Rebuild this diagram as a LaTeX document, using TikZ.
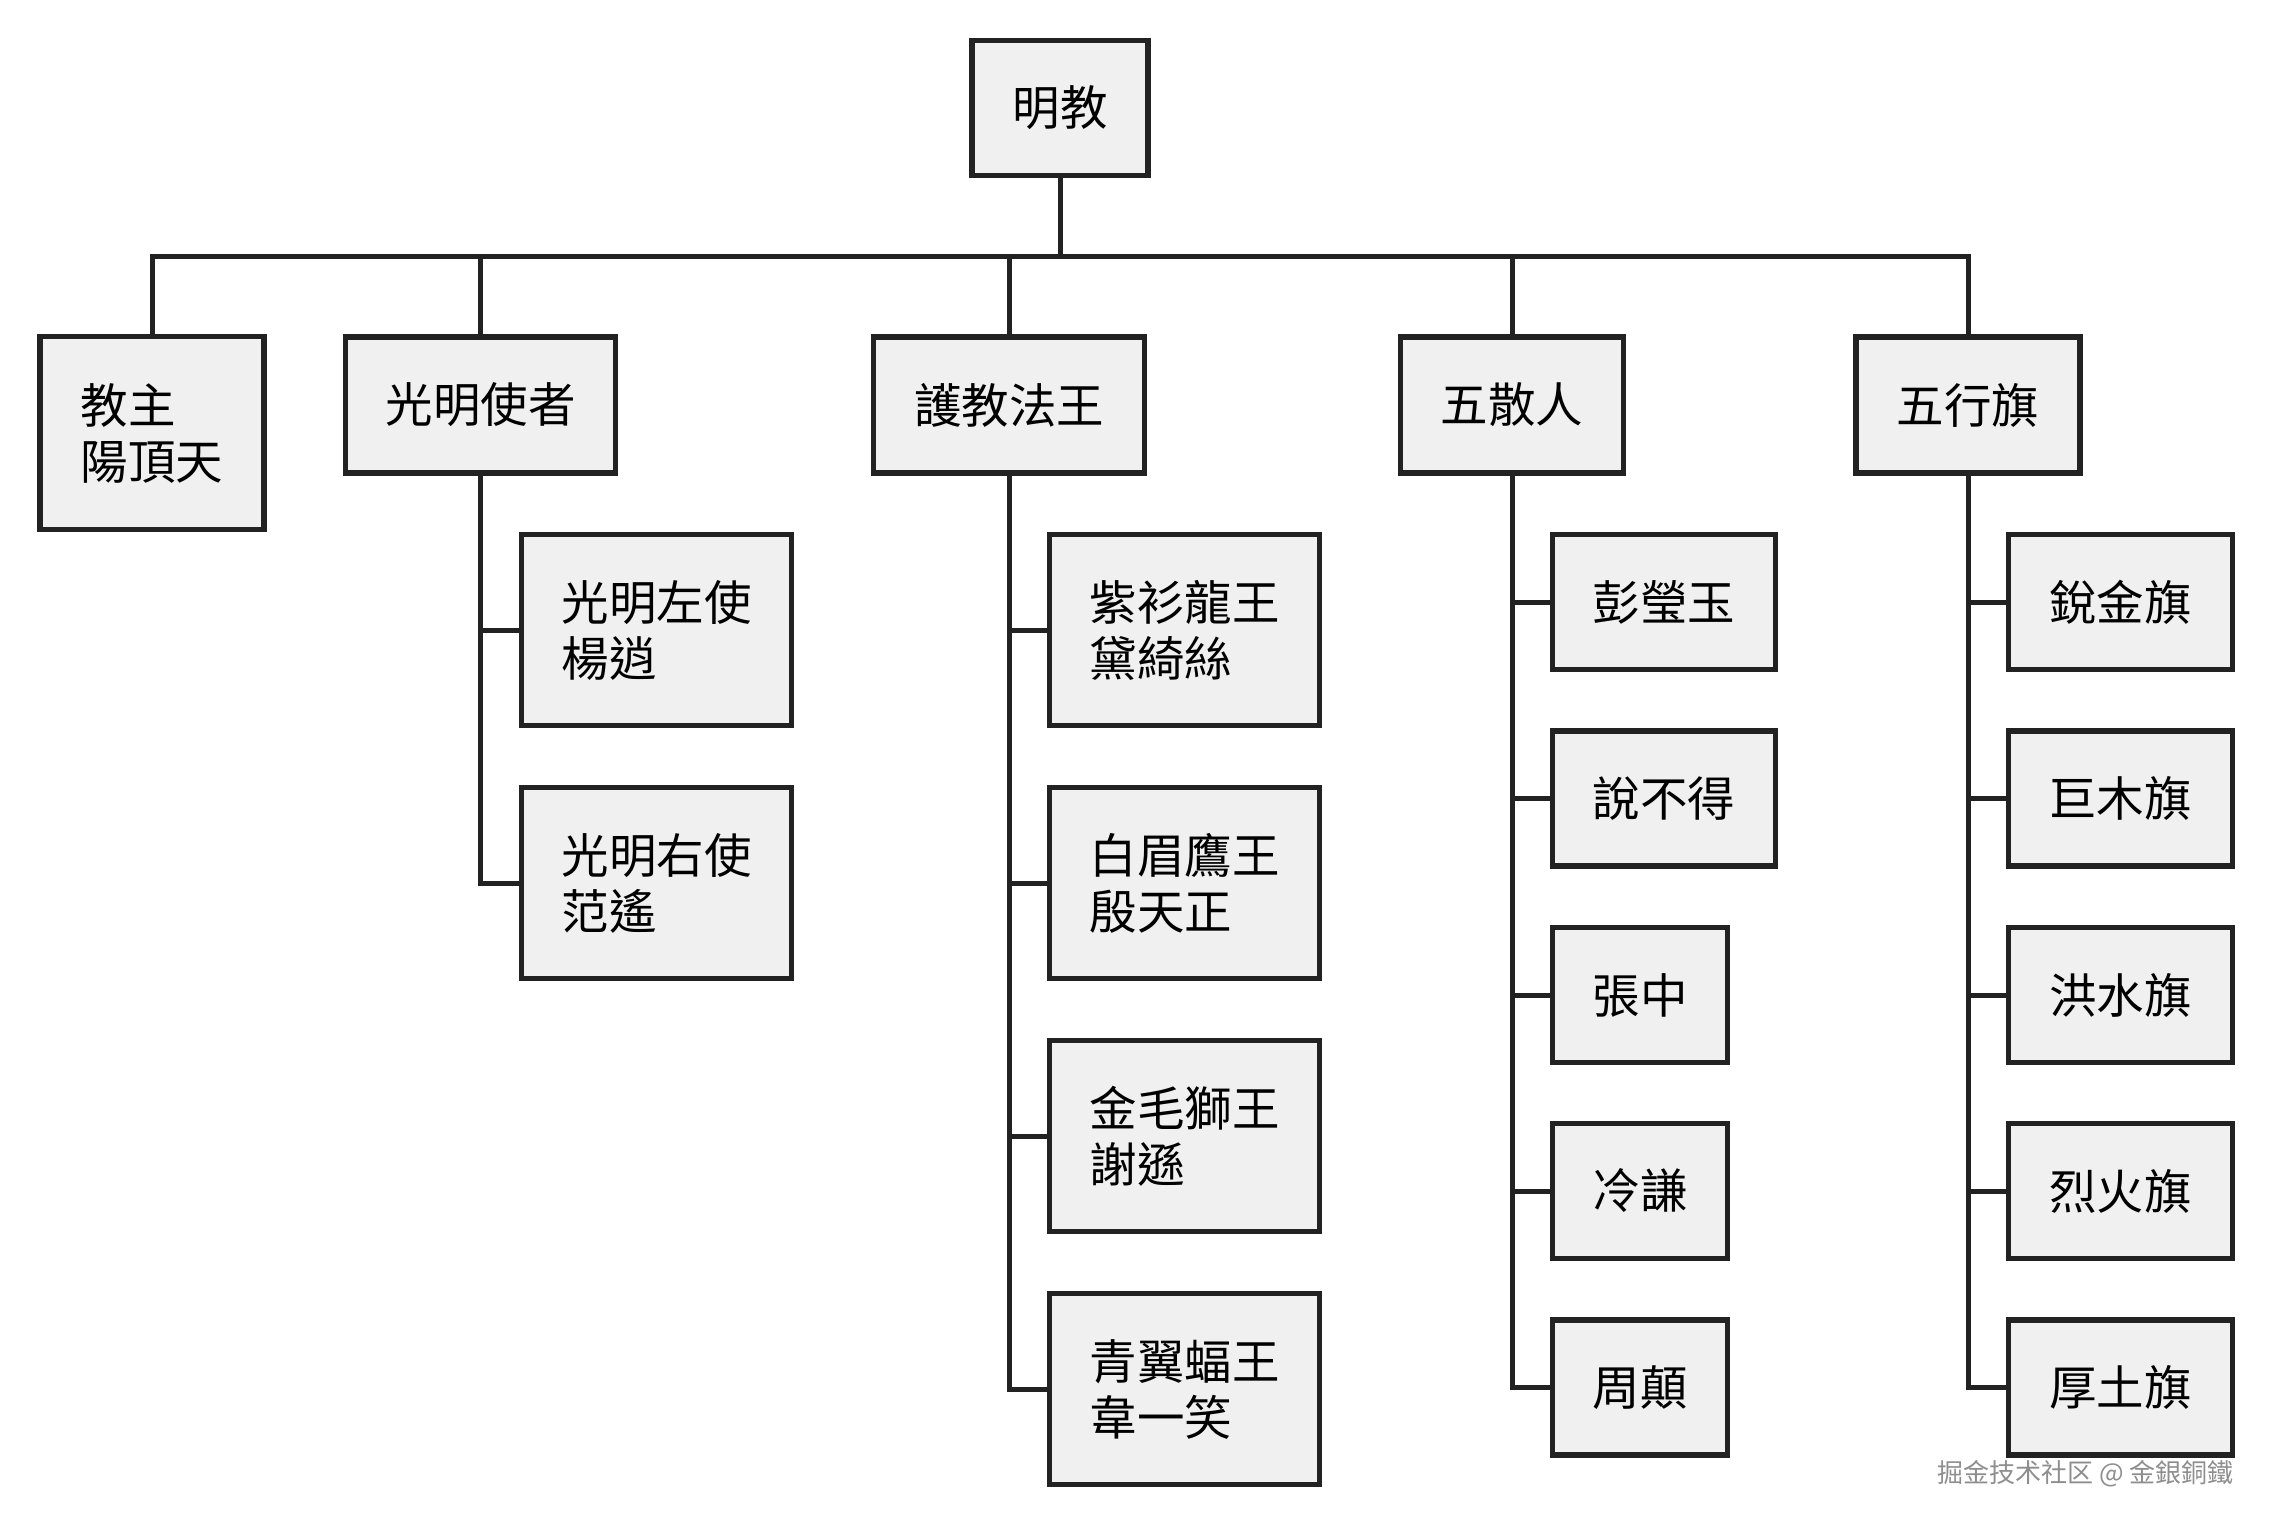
\documentclass[tikz,border=0pt]{standalone}
\usepackage{fontspec}
\setmainfont{Noto Sans CJK TC}
\newfontfamily\wmfont{Noto Sans CJK SC}
\definecolor{boxfill}{HTML}{F0F0F0}
\definecolor{ink}{HTML}{222222}
\definecolor{wmgray}{HTML}{8E8E8E}
\tikzset{
  box/.style={draw=ink, fill=boxfill, line width=5.5pt, inner sep=0pt, align=left,
              font=\fontsize{47.5}{56}\selectfont, text=black},
  link/.style={draw=ink, line width=5pt, line join=miter},
}
\begin{document}
\begin{tikzpicture}[x=1pt,y=-1pt]
\useasboundingbox (0,0) rectangle (2272,1525);
% root
\node[box, minimum width=176pt, minimum height=135pt] (root) at (1060,108) {明教};
% level 1
\node[box, minimum width=224pt, minimum height=193pt] (jz) at (152,433) {教主\\陽頂天};
\node[box, minimum width=270pt, minimum height=136pt] (gm) at (480.5,405) {光明使者};
\node[box, minimum width=271pt, minimum height=136pt] (hj) at (1009,405) {護教法王};
\node[box, minimum width=223pt, minimum height=136pt] (ws) at (1512,405) {五散人};
\node[box, minimum width=224pt, minimum height=136pt] (wx) at (1968,405) {五行旗};
% 光明使者 children
\node[box, minimum width=270pt, minimum height=191pt] (gm1) at (656.5,630) {光明左使\\楊逍};
\node[box, minimum width=270pt, minimum height=191pt] (gm2) at (656.5,883) {光明右使\\范遙};
% 護教法王 children
\node[box, minimum width=270pt, minimum height=191pt] (hj1) at (1184.5,630) {紫衫龍王\\黛綺絲};
\node[box, minimum width=270pt, minimum height=191pt] (hj2) at (1184.5,883) {白眉鷹王\\殷天正};
\node[box, minimum width=270pt, minimum height=191pt] (hj3) at (1184.5,1136) {金毛獅王\\謝遜};
\node[box, minimum width=270pt, minimum height=191pt] (hj4) at (1184.5,1389) {青翼蝠王\\韋一笑};
% 五散人 children
\node[box, minimum width=223pt, minimum height=135pt] (ws1) at (1664,602) {彭瑩玉};
\node[box, minimum width=223pt, minimum height=135pt] (ws2) at (1664,798.5) {說不得};
\node[box, minimum width=175pt, minimum height=135pt] (ws3) at (1640,995) {張中};
\node[box, minimum width=175pt, minimum height=135pt] (ws4) at (1640,1191) {冷謙};
\node[box, minimum width=175pt, minimum height=135pt] (ws5) at (1640,1387.5) {周顛};
% 五行旗 children
\node[box, minimum width=224pt, minimum height=135pt] (wx1) at (2120.5,602) {銳金旗};
\node[box, minimum width=224pt, minimum height=135pt] (wx2) at (2120.5,798.5) {巨木旗};
\node[box, minimum width=224pt, minimum height=135pt] (wx3) at (2120.5,995) {洪水旗};
\node[box, minimum width=224pt, minimum height=135pt] (wx4) at (2120.5,1191) {烈火旗};
\node[box, minimum width=224pt, minimum height=135pt] (wx5) at (2120.5,1387.5) {厚土旗};
% bus
\coordinate (bus) at (1060,256);
\draw[link] (root.south) -- (bus);
\foreach \n in {jz,gm,hj,ws,wx} {\draw[link] (\n.north) |- (bus);}
% children links
\foreach \p/\c in {gm/gm1,gm/gm2,hj/hj1,hj/hj2,hj/hj3,hj/hj4,ws/ws1,ws/ws2,ws/ws3,ws/ws4,ws/ws5,wx/wx1,wx/wx2,wx/wx3,wx/wx4,wx/wx5}
  {\draw[link] (\p.south) |- (\c.west);}
% watermark
\node[anchor=east, inner sep=0pt, font=\wmfont\fontsize{26}{26}\selectfont, text=wmgray] (wm) at (2234,1474) {掘金技术社区 @ 金銀銅鐵};
\end{tikzpicture}
\end{document}
